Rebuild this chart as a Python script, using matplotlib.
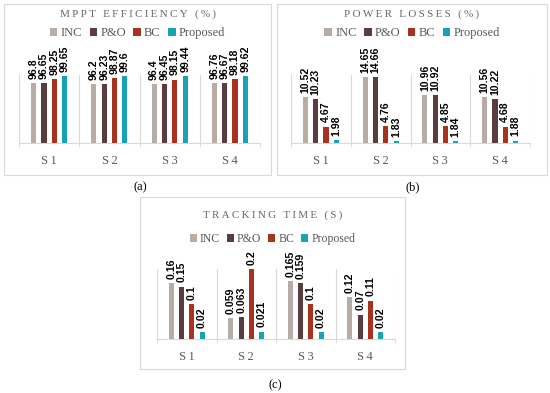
import matplotlib
matplotlib.use('Agg')
import matplotlib.pyplot as plt
from matplotlib.patches import Rectangle, Patch
import numpy as np

W, H = 550, 393

categories = ['S1', 'S2', 'S3', 'S4']
methods = ['INC', 'P&O', 'BC', 'Proposed']
colors = ['#b8ada4', '#5b3c3e', '#a83220', '#17a2b6']

eff_inc = [96.8, 96.2, 96.4, 96.76]
eff_po = [96.65, 96.23, 96.45, 96.67]
eff_bc = [98.25, 98.87, 98.15, 98.18]
eff_prop = [99.65, 99.6, 99.44, 99.62]

loss_inc = [10.52, 14.65, 10.96, 10.56]
loss_po = [10.23, 14.66, 10.92, 10.22]
loss_bc = [4.67, 4.76, 4.85, 4.68]
loss_prop = [1.98, 1.83, 1.84, 1.88]

time_inc = [0.16, 0.059, 0.165, 0.12]
time_po = [0.15, 0.063, 0.159, 0.07]
time_bc = [0.1, 0.2, 0.1, 0.11]
time_prop = [0.02, 0.021, 0.02, 0.02]

GRID = '#d9d9d9'
TXT = '#595959'
SERIF = ['Liberation Serif', 'DejaVu Serif']


def spaced(s):
    return '\u2009'.join(s)


fig = plt.figure(figsize=(W / 100, H / 100), dpi=100)


def px_axes(x0, y0, x1, y1):
    return fig.add_axes([x0 / W, 1 - y1 / H, (x1 - x0) / W, (y1 - y0) / H])


def frame(x0, y0, x1, y1):
    fig.patches.append(Rectangle((x0 / W, 1 - y1 / H), (x1 - x0) / W, (y1 - y0) / H,
                                 transform=fig.transFigure, fill=False,
                                 edgecolor=GRID, linewidth=0.8))


def panel(box, ax_box, title, title_y, legend_y, legend_size, series, ylim, caption, cap_xy):
    frame(*box)
    ax = px_axes(*ax_box)
    x = np.arange(len(categories))
    step = 0.172
    for i, vals in enumerate(series):
        pos = x + (i - 1.5) * step
        ax.bar(pos, vals, width=0.085, color=colors[i], label=methods[i], zorder=3)
        for p, v in zip(pos, vals):
            ax.annotate(str(v), (p, v), xytext=(0, 3), textcoords='offset points',
                        rotation=90, ha='center', va='bottom', fontsize=7.6,
                        fontweight='bold', family='Liberation Sans',
                        annotation_clip=False)
    ax.set_xlim(-0.5, len(categories) - 0.5)
    ax.set_ylim(*ylim)
    ax.set_yticks([])
    ax.set_xticks(x)
    ax.set_xticklabels([spaced(c) for c in categories], family=SERIF,
                       fontsize=9, color=TXT)
    ax.tick_params(axis='x', which='major', length=0, pad=9)
    ax.set_xticks(np.arange(len(categories) + 1) - 0.5, minor=True)
    ax.tick_params(axis='x', which='minor', length=3, color=GRID)
    ax.grid(which='minor', axis='x', color=GRID, linewidth=0.8, zorder=0)
    for s in ['top', 'left', 'right']:
        ax.spines[s].set_visible(False)
    ax.spines['bottom'].set_color(GRID)

    cx = (box[0] + box[2]) / 2 / W
    fig.text(cx, 1 - title_y / H, spaced(title), ha='center', va='center',
             family=SERIF, fontsize=8, color='#666666')
    handles = [Patch(facecolor=c, label=m) for c, m in zip(colors, methods)]
    fig.legend(handles=handles, loc='center', bbox_to_anchor=(cx, 1 - legend_y / H),
               ncol=4, frameon=False, handlelength=0.6, handleheight=0.6,
               handletextpad=0.25, columnspacing=0.6,
               prop={'family': SERIF, 'size': legend_size}, labelcolor=TXT)
    fig.text(cap_xy[0] / W, 1 - cap_xy[1] / H, caption, ha='center', va='center',
             family=SERIF, fontsize=9)
    return ax


panel((4, 4, 271, 175), (19, 75, 260, 143), 'MPPT EFFICIENCY (%)', 14, 33, 9,
      [eff_inc, eff_po, eff_bc, eff_prop], (72.4, 100.0), '(a)', (140, 187))
panel((277, 4, 547, 175), (291, 75, 530, 143), 'POWER LOSSES (%)', 14, 33, 9,
      [loss_inc, loss_po, loss_bc, loss_prop], (1.4, 15.0), '(b)', (413, 187))
panel((140, 197, 405, 369), (157, 269, 395, 339), 'TRACKING TIME (S)', 215, 239, 8.5,
      [time_inc, time_po, time_bc, time_prop], (0.0, 0.2), '(c)', (275, 385))

fig.savefig('out.png', dpi=100)
